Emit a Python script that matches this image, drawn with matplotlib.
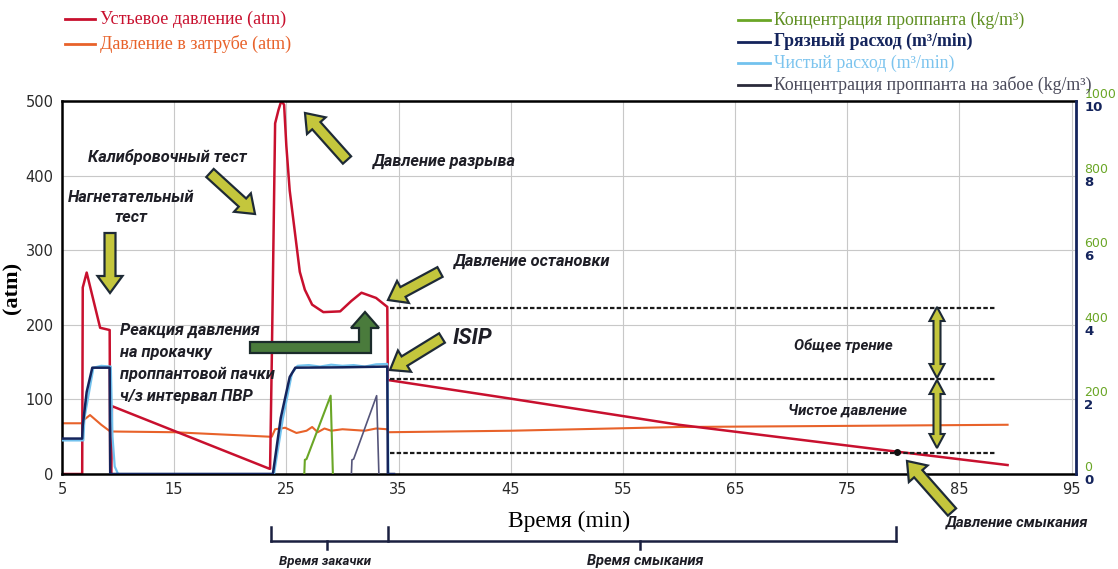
import matplotlib
matplotlib.use("Agg")
import matplotlib.pyplot as plt
from matplotlib.patches import FancyArrow, Polygon

# --- data ---
# Устьевое давление (atm)
tubing_t = [5, 6.8, 6.85, 7.2, 8.4, 9.25, 9.3, 9.4, 9.45, 23.5, 23.55, 23.7, 24.0, 24.3,
            24.55, 24.8, 25.0, 25.3, 26.2, 26.65, 27.3, 28.3, 29.8, 30.8, 31.7, 33.0,
            34.0, 34.05, 45, 60, 79.4, 89.3]
tubing_p = [0, 0, 250, 270, 196, 193, 0, 0, 91, 7, 7, 150, 470, 488,
            500, 495, 440, 380, 271, 247, 227, 217, 218, 232, 243, 236,
            224, 126, 101, 66, 30, 12]

# Давление в затрубе (atm)
annulus_t = [5, 6.8, 6.9, 7.5, 8.5, 9.3, 15, 23.5, 23.7, 24.0, 24.9, 25.9, 26.8, 27.3,
             27.8, 28.4, 29.0, 30.0, 31.0, 32.0, 33.0, 34.0, 34.1, 45, 60, 70, 89.3]
annulus_p = [68, 68, 72, 79, 66, 57, 56, 50, 50, 60, 62, 55, 58, 63,
             56, 61, 58, 60, 59, 58, 61, 60, 56, 58, 63, 64, 66]

# Грязный расход (m3/min)
dirty_t = [5, 6.8, 6.85, 7.2, 7.7, 9.25, 9.3, 23.8, 24.5, 25.3, 25.8, 30.0, 34.0, 34.05, 34.6]
dirty_q = [0.95, 0.95, 1.3, 2.2, 2.85, 2.85, 0, 0, 1.5, 2.6, 2.85, 2.86, 2.88, 0, 0]

# Чистый расход (m3/min)
clean_t = [5, 6.9, 7.0, 7.8, 8.5, 9.35, 9.5, 9.7, 10.0, 22.6, 23.9, 24.7, 25.5, 26.0,
           27.0, 28.0, 29.0, 30.0, 31.0, 32.0, 33.0, 34.0, 34.1]
clean_q = [0.9, 0.9, 1.5, 2.85, 2.9, 2.88, 1.0, 0.2, 0, 0, 0, 1.5, 2.7, 2.9,
           2.92, 2.88, 2.93, 2.9, 2.92, 2.88, 2.94, 2.95, 0]

# Концентрация проппанта (kg/m3)
conc_t = [26.6, 26.65, 26.8, 28.95, 29.15]
conc_c = [0, 38, 40, 210, 0]

# Концентрация проппанта на забое (kg/m3)
bh_conc_t = [30.8, 30.85, 31.0, 33.05, 33.25]
bh_conc_c = [0, 38, 40, 210, 0]

# pressure levels marked with dotted lines
stop_p, isip_p, closure_p = 223, 127, 28
closure_t = 79.4
closure_dot_p = 30

x_ticks = list(range(5, 96, 10))
p_ticks = list(range(0, 501, 100))
rate_ticks = list(range(0, 11, 2))
conc_ticks = list(range(0, 1001, 200))

RED = "#c8102e"
ORANGE = "#e8622a"
NAVY = "#14245c"
LIGHT = "#72c2ee"
GREEN = "#6aa626"
GRAY = "#55557a"

W, H = 1118, 569
fig = plt.figure(figsize=(W / 100, H / 100), dpi=100)
left, right, top, bottom = 62, 1076, 101, 474
ax = fig.add_axes([left / W, 1 - bottom / H, (right - left) / W, (bottom - top) / H])
ax.set_xlim(5, 95.4)
ax.set_ylim(0, 500)
ax.set_xticks(x_ticks)
ax.set_yticks(p_ticks)
ax.grid(True, color="#c8c8c8", lw=0.8)
ax.tick_params(length=0, pad=6, labelsize=10.5, labelcolor="#2a2a2a")
for s in ["left", "bottom", "top"]:
    ax.spines[s].set_linewidth(1.8)
ax.spines["right"].set_visible(False)

ax.plot(annulus_t, annulus_p, color=ORANGE, lw=1.5)
ax.plot(tubing_t, tubing_p, color=RED, lw=1.8)
ax.hlines([stop_p, isip_p, closure_p], 34.2, 88.3, colors="#1a1a1a",
          linestyles=(0, (2, 1)), lw=1.6)
ax.plot([closure_t], [closure_dot_p], "o", color="#111111", ms=4)

ax.set_ylabel("(atm)", family="Liberation Serif", fontsize=16, fontweight="bold")
ax.yaxis.set_label_coords(-40 / 1014, 0.5)
ax.set_xlabel("Время (min)", family="Liberation Serif", fontsize=17, labelpad=10)

# right axes: rate (0-10) and concentration (0-1000)
ax2 = ax.twinx()
ax2.set_ylim(0, 10)
ax2.set_yticks(rate_ticks)
ax2.tick_params(length=0, pad=6, labelsize=9.5, labelcolor=NAVY)
for lab in ax2.get_yticklabels():
    lab.set_va("top")
    lab.set_fontweight("bold")
for s in ["left", "bottom", "top"]:
    ax2.spines[s].set_visible(False)
ax2.spines["right"].set_color(NAVY)
ax2.spines["right"].set_linewidth(2)
ax2.plot(clean_t, clean_q, color=LIGHT, lw=1.6)
ax2.plot(dirty_t, dirty_q, color=NAVY, lw=1.8)

ax3 = ax.twinx()
ax3.set_ylim(0, 1000)
ax3.set_yticks(conc_ticks)
ax3.tick_params(length=0, pad=6, labelsize=9, labelcolor=GREEN)
for lab in ax3.get_yticklabels():
    lab.set_va("bottom")
for s in ax3.spines.values():
    s.set_visible(False)
ax3.plot(conc_t, conc_c, color=GREEN, lw=1.5)
ax3.plot(bh_conc_t, bh_conc_c, color=GRAY, lw=1.2)

# overlay in pixel coordinates for legends and annotations
ov = fig.add_axes([0, 0, 1, 1], zorder=10)
ov.set_xlim(0, W)
ov.set_ylim(H, 0)
ov.axis("off")
ov.patch.set_alpha(0)

serif = ["Liberation Serif", "DejaVu Serif"]
legend_left = [("Устьевое давление (atm)", RED, "normal"),
               ("Давление в затрубе (atm)", ORANGE, "normal")]
for i, (txt, c, w) in enumerate(legend_left):
    y = 19 + i * 25
    ov.plot([65, 95], [y, y], color=c, lw=2)
    ov.text(100, y, txt, color=c, family=serif, fontsize=13, va="center", weight=w)

legend_right = [("Концентрация проппанта (kg/m³)", GREEN, "#5f8f22", "normal"),
                ("Грязный расход (m³/min)", NAVY, NAVY, "bold"),
                ("Чистый расход (m³/min)", LIGHT, "#7cc4ee", "normal"),
                ("Концентрация проппанта на забое (kg/m³)", "#2a2a3a", "#4a4a5a", "normal")]
for i, (txt, lc, tc, w) in enumerate(legend_right):
    y = 20 + i * 21.5
    ov.plot([738, 770], [y, y], color=lc, lw=2)
    ov.text(774, y, txt, color=tc, family=serif, fontsize=12.8, va="center", weight=w)

note = dict(family=["Roboto", "DejaVu Sans"], fontsize=11.8, fontweight="bold",
            fontstyle="italic", color="#1e1e26")
small = {**note, "fontsize": 10.8}
ov.text(131, 197, "Нагнетательный", ha="center", va="center", **note)
ov.text(131, 217, "тест", ha="center", va="center", **note)
ov.text(88, 157, "Калибровочный тест", ha="left", va="center", **note)
ov.text(372, 161, "Давление разрыва", ha="left", va="center", **note)
ov.text(453, 261, "Давление остановки", ha="left", va="center", **note)
for i, line in enumerate(["Реакция давления", "на прокачку",
                          "проппантовой пачки", "ч/з интервал ПВР"]):
    ov.text(120, 330 + i * 22, line, ha="left", va="center", **note)
ov.text(453, 338, "ISIP", ha="left", va="center", family=["Roboto", "DejaVu Sans"],
        fontsize=16, fontweight="bold", fontstyle="italic", color="#1e1e26")
ov.text(843, 346, "Общее трение", ha="center", va="center", **small)
ov.text(847, 411, "Чистое давление", ha="center", va="center", **small)
ov.text(1017, 523, "Давление смыкания", ha="center", va="center", **small)
ov.text(325, 561, "Время закачки", ha="center", va="center", **{**note, "fontsize": 9.5})
ov.text(645, 561, "Время смыкания", ha="center", va="center", **{**note, "fontsize": 10.5})

ARROW_FC = "#c4c63c"
ARROW_EC = "#1e2a36"


def fat_arrow(x0, y0, x1, y1, w=11, hw=25, hl=17):
    ov.add_patch(FancyArrow(x0, y0, x1 - x0, y1 - y0, width=w, head_width=hw,
                            head_length=hl, length_includes_head=True,
                            fc=ARROW_FC, ec=ARROW_EC, lw=1.6))


fat_arrow(110, 233, 110, 293)
fat_arrow(210, 173, 255, 214)
fat_arrow(347, 160, 305, 113)
fat_arrow(440, 272, 388, 300)
fat_arrow(442, 338, 390, 370)
fat_arrow(952, 512, 907, 461)


def double_arrow(x, y0, y1, w=7, hw=15, hl=14):
    pts = [(x, y0), (x + hw / 2, y0 + hl), (x + w / 2, y0 + hl), (x + w / 2, y1 - hl),
           (x + hw / 2, y1 - hl), (x, y1), (x - hw / 2, y1 - hl), (x - w / 2, y1 - hl),
           (x - w / 2, y0 + hl), (x - hw / 2, y0 + hl)]
    ov.add_patch(Polygon(pts, closed=True, fc=ARROW_FC, ec=ARROW_EC, lw=1.5))


double_arrow(937, 307, 378)
double_arrow(937, 380, 448)

# green L-shaped arrow
ov.add_patch(Polygon([(250, 342), (359, 342), (359, 328), (351, 328), (365, 312),
                      (379, 328), (371, 328), (371, 353), (250, 353)],
                     closed=True, fc="#4a7b3c", ec="#1b2b2b", lw=1.6))

# brackets under the time axis
br = dict(color="#1a2040", lw=1.8)
ov.plot([271, 896], [541, 541], **br)
for xb in [271, 388, 896]:
    ov.plot([xb, xb], [527, 541], **br)
for xb in [327, 640]:
    ov.plot([xb, xb], [541, 549], **br)

fig.savefig("out.png", dpi=100, facecolor="white")
